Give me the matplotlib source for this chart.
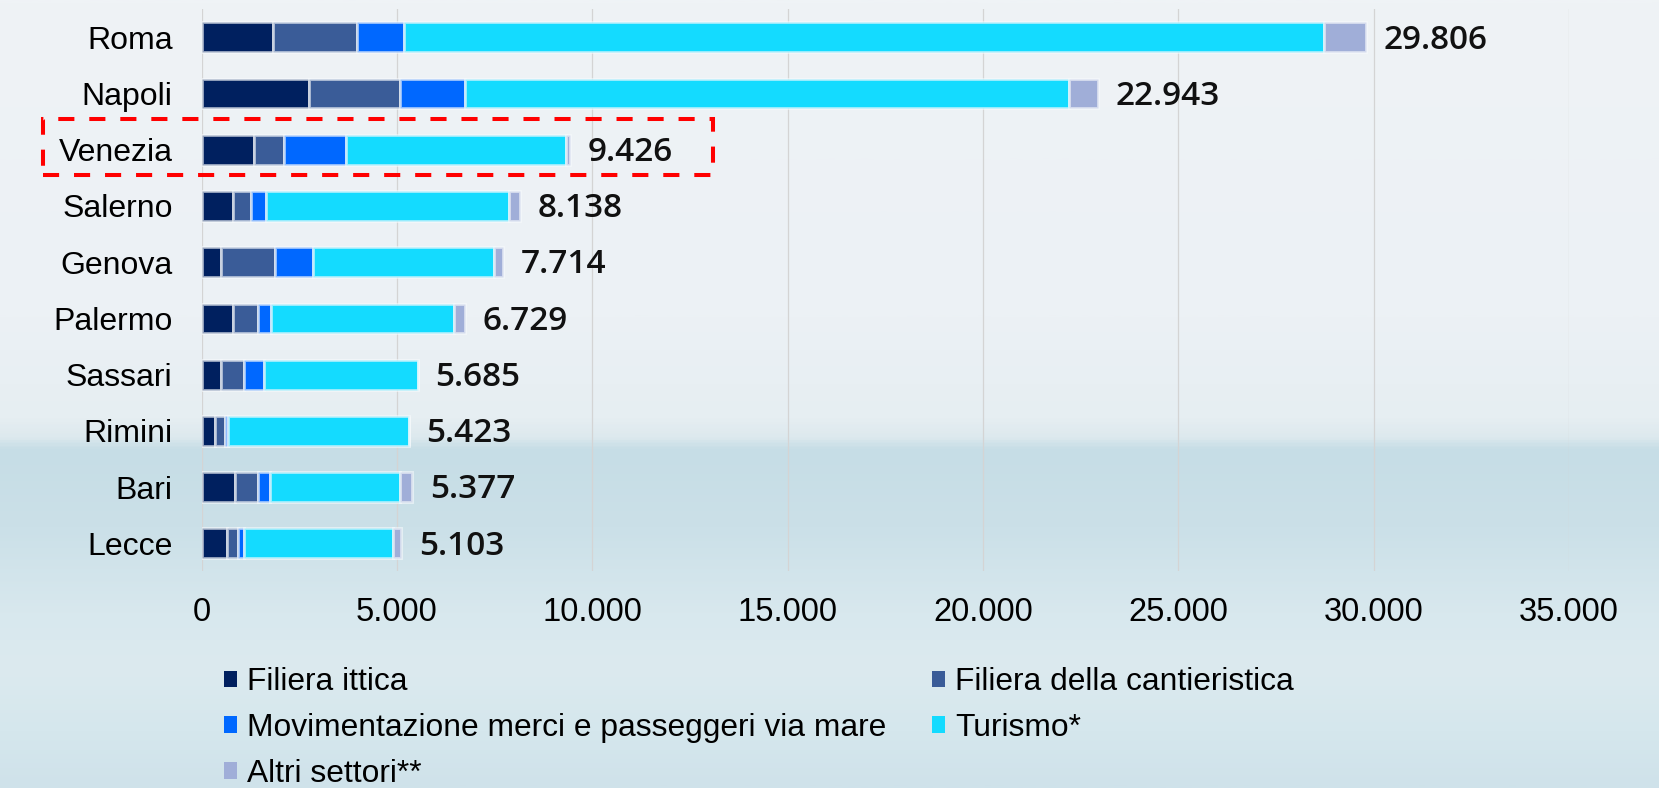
import matplotlib
matplotlib.use("Agg")
import matplotlib.pyplot as plt
import numpy as np
from matplotlib.patches import Patch, Rectangle
from matplotlib.colors import LinearSegmentedColormap

# ---------------- data ----------------
cities = ["Roma", "Napoli", "Venezia", "Salerno", "Genova", "Palermo",
          "Sassari", "Rimini", "Bari", "Lecce"]
filiera_ittica = [1830, 2750, 1335, 795, 485, 810, 505, 350, 860, 660]
filiera_cantieristica = [2140, 2330, 780, 460, 1400, 620, 585, 250, 590, 275]
movimentazione = [1200, 1665, 1570, 385, 970, 335, 505, 70, 290, 150]
turismo = [23550, 15455, 5640, 6230, 4635, 4700, 3930, 4625, 3340, 3805]
altri_settori = [1086, 743, 101, 268, 224, 264, 0, 0, 297, 213]
totali = [29806, 22943, 9426, 8138, 7714, 6729, 5685, 5423, 5377, 5103]
series_names = ["Filiera ittica", "Filiera della cantieristica",
                "Movimentazione merci e passeggeri via mare", "Turismo*",
                "Altri settori**"]
x_ticks = [0, 5000, 10000, 15000, 20000, 25000, 30000, 35000]
x_ticklabels = ["0", "5.000", "10.000", "15.000", "20.000", "25.000",
                "30.000", "35.000"]

colors = ["#00205F", "#3A5C98", "#0068FF", "#14DBFF", "#A0AED8"]

# ---------------- figure ----------------
W, H = 1659, 788
fig = plt.figure(figsize=(W / 100, H / 100), dpi=100)

# background (sea-like gradient)
bg = fig.add_axes([0, 0, 1, 1], zorder=-10)
stops = [(0.0, "#cfe2ea"), (0.07, "#d5e7ed"), (0.15, "#dceaef"),
         (0.22, "#d8e8ee"), (0.33, "#cbe0e8"), (0.43, "#c6dde6"),
         (0.445, "#dde9ee"), (0.47, "#e6eef2"), (0.60, "#ecf1f5"),
         (1.0, "#eff3f6")]
cmap = LinearSegmentedColormap.from_list("sea", stops)
grad = np.linspace(0, 1, 600).reshape(-1, 1)
bg.imshow(grad, aspect="auto", cmap=cmap, origin="lower",
          extent=[0, 1, 0, 1], vmin=0, vmax=1)
bg.set_axis_off()

font = "Liberation Sans"

ax = fig.add_axes([201.7 / W, (H - 571.4) / H, 1367.1 / W, 562.2 / H])
ax.set_facecolor("none")

y = np.arange(len(cities))
series = [filiera_ittica, filiera_cantieristica, movimentazione, turismo,
          altri_settori]
left = np.zeros(len(cities))
handles = []
for vals, c, name in zip(series, colors, series_names):
    vals = np.array(vals, dtype=float)
    ax.barh(y, vals, left=left, height=0.53, color=c,
            edgecolor=(0.97, 0.98, 0.99, 0.6), linewidth=2.1, zorder=3)
    left = left + vals
    handles.append(Patch(facecolor=c, edgecolor="none", label=name))

for yi, end, tot in zip(y, left, totali):
    ax.annotate(f"{tot:,}".replace(",", "."), xy=(end, yi),
                xytext=(13, -2), textcoords="offset points",
                ha="left", va="center", fontsize=24,
                family="Open Sans", weight="semibold", color="#111111")

ax.set_xlim(0, 35000)
ax.set_ylim(len(cities) - 0.5, -0.5)
ax.set_xticks(x_ticks)
ax.set_xticklabels(x_ticklabels, fontsize=23.5, family=font)
ax.set_yticks(y)
ax.set_yticklabels(cities, fontsize=23, family=font)
ax.tick_params(axis="both", length=0, colors="#000000")
ax.tick_params(axis="x", pad=18.5)
ax.tick_params(axis="y", pad=21)
for s in ax.spines.values():
    s.set_visible(False)
ax.grid(axis="x", color="#d4d4d4", linewidth=0.9, zorder=0)
ax.set_axisbelow(True)

# legend (row-major order shown in reference)
order = [0, 2, 4, 1, 3]
leg = fig.legend([handles[i] for i in order], [series_names[i] for i in order],
                 ncol=2, loc="upper left",
                 bbox_to_anchor=(224 / W, (H - 667) / H),
                 frameon=False, prop={"family": font, "size": 22.9},
                 handlelength=0.41, handleheight=0.41, handletextpad=0.32,
                 columnspacing=1.42, labelspacing=0.5, borderpad=0,
                 borderaxespad=0)

# red dashed highlight box around Venezia
rect = Rectangle((43 / W, (H - 174.7) / H), 670 / W, 56 / H,
                 transform=fig.transFigure, fill=False, edgecolor="#ff0000",
                 linewidth=2.9, linestyle=(0, (4, 3.7)), zorder=10)
fig.add_artist(rect)

fig.savefig("out.png", dpi=100)
